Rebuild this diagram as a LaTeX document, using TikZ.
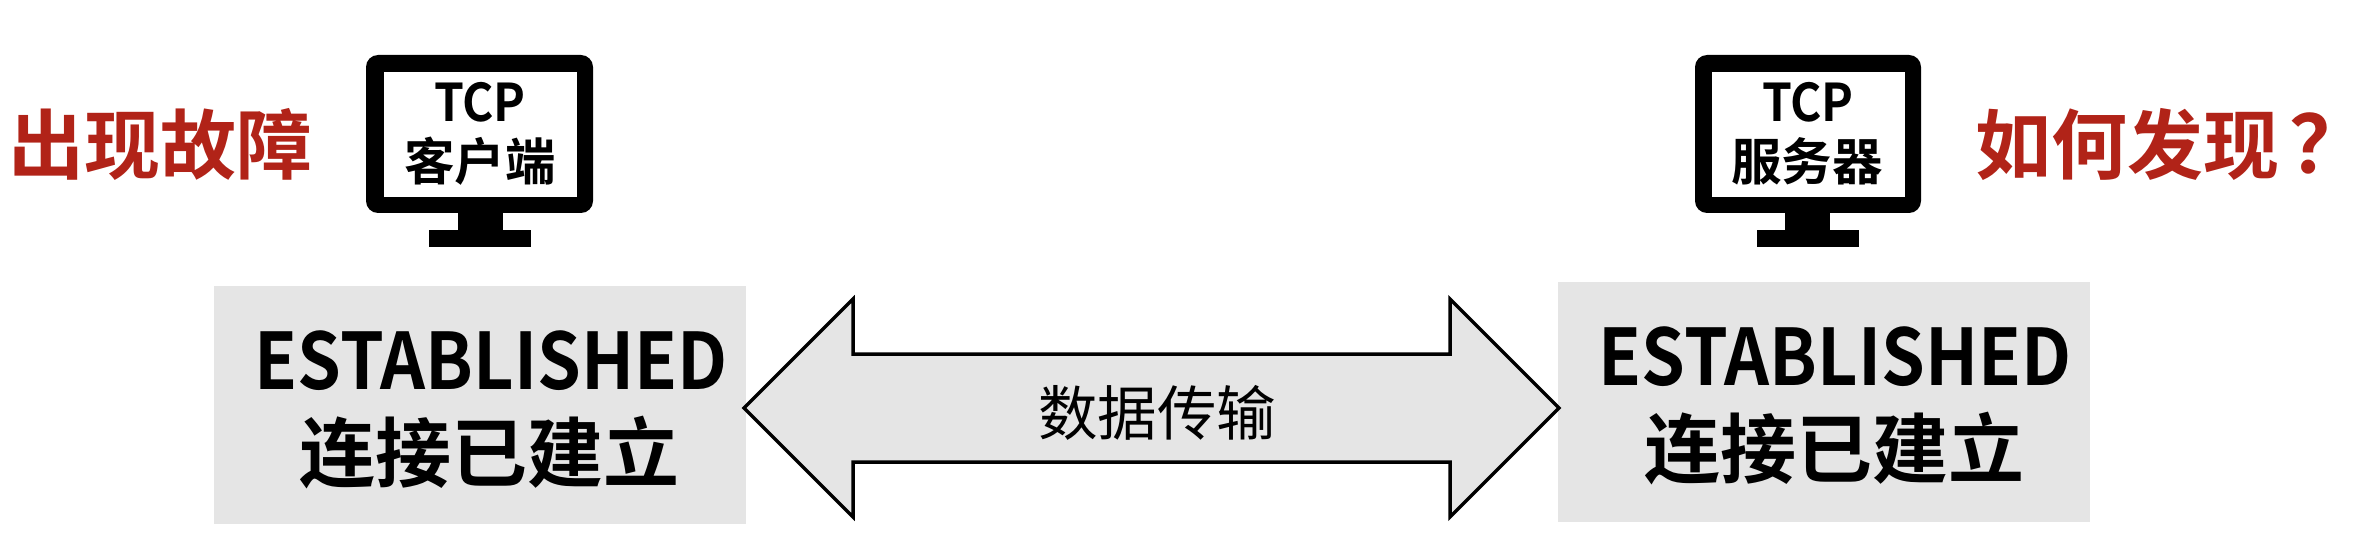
\documentclass[tikz,border=0pt]{standalone}
\usepackage{fontspec}
\setmainfont{Noto Sans CJK SC}[BoldFont={Noto Sans CJK SC Bold}]
\definecolor{redtxt}{HTML}{B12318}
\definecolor{boxgray}{HTML}{E5E5E5}
\tikzset{
  big/.style={inner sep=0pt,font=\fontsize{76}{80}\selectfont\bfseries},
  estab/.style={inner sep=0pt,xscale=0.9,transform shape,font=\fontsize{78}{80}\selectfont\bfseries},
  redt/.style={inner sep=0pt,text=redtxt,font=\fontsize{76}{80}\selectfont\bfseries},
  small/.style={inner sep=0pt,font=\fontsize{50.5}{55}\selectfont\bfseries},
  tcplabel/.style={inner sep=0pt,xscale=0.92,transform shape,font=\fontsize{52}{55}\selectfont\bfseries},
  plain/.style={inner sep=0pt,font=\fontsize{59.5}{62}\selectfont},
  panel/.style={fill=boxgray,draw=none}
}
\begin{document}
\begin{tikzpicture}[x=1pt,y=-1pt]
\useasboundingbox (0,0) rectangle (2370,556);
% left box
\fill[panel] (214,286) rectangle (746,524);
\fill[panel] (1558,282) rectangle (2090,522);
% arrow
\draw[fill=boxgray,draw=black,line width=3.5pt,miter limit=10]
  (744,408) -- (853,299) -- (853,354) -- (1450,354) -- (1450,299) -- (1559,408)
  -- (1450,517) -- (1450,462) -- (853,462) -- (853,517) -- cycle;
% left monitor
\fill[black,rounded corners=12pt] (366,55) rectangle (593,213);
\fill[white] (384,72) rectangle (577,197);
\fill[black] (458,212) rectangle (503,231);
\fill[black] (429,230) rectangle (531,247);
% right monitor
\fill[black,rounded corners=12pt] (1695,55) rectangle (1921,213);
\fill[white] (1712,72) rectangle (1905,197);
\fill[black] (1785,212) rectangle (1830,231);
\fill[black] (1757,230) rectangle (1859,247);
% texts
\node[redt] (fault) at (161,144) {出现故障};
\node[redt,anchor=west] (how) at (1975,144) {如何发现\kern 10pt{\fontsize{80}{80}\selectfont ？}};
\node[tcplabel] (tcpa) at (480,102) {TCP};
\node[small] (cli) at (480,161) {客户端};
\node[tcplabel] (tcpb) at (1808,102) {TCP};
\node[small] (srv) at (1807,161) {服务器};
\node[estab] (ea) at (491,361) {ESTABLISHED};
\node[big] (la) at (489,453) {连接已建立};
\node[estab] (eb) at (1835,357) {ESTABLISHED};
\node[big] (lb) at (1834,449) {连接已建立};
\node[plain] (data) at (1157,413) {数据传输};
\end{tikzpicture}
\end{document}
